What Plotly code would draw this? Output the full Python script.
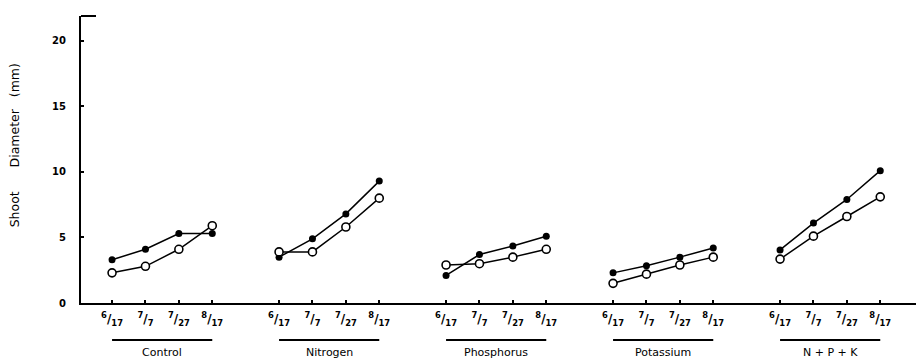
import plotly.graph_objects as go

# Treatments and sampling dates
treatments = ["Control", "Nitrogen", "Phosphorus", "Potassium", "N + P + K"]
dates = ["6/17", "7/7", "7/27", "8/17"]

# Shoot diameter (mm), solid-circle series
solid = {
    "Control":    [3.3, 4.1, 5.3, 5.3],
    "Nitrogen":   [3.5, 4.9, 6.8, 9.3],
    "Phosphorus": [2.1, 3.7, 4.35, 5.1],
    "Potassium":  [2.3, 2.85, 3.5, 4.2],
    "N + P + K":  [4.05, 6.1, 7.9, 10.1],
}
# Shoot diameter (mm), open-circle series
hollow = {
    "Control":    [2.3, 2.8, 4.1, 5.9],
    "Nitrogen":   [3.9, 3.9, 5.8, 8.0],
    "Phosphorus": [2.9, 3.0, 3.5, 4.1],
    "Potassium":  [1.5, 2.2, 2.9, 3.5],
    "N + P + K":  [3.35, 5.1, 6.6, 8.1],
}

y_ticks = [0, 5, 10, 15, 20]
GROUP_STEP = 5  # four dates plus one blank slot between treatments


def frac(label):
    num, den = label.split("/")
    return f"<sup>{num}</sup>/<sub>{den}</sub>"


font_family = "DejaVu Sans, Arial, sans-serif"
fig = go.Figure()

tick_pos, tick_txt = [], []
for g, name in enumerate(treatments):
    xs = [g * GROUP_STEP + j for j in range(len(dates))]
    tick_pos += xs
    tick_txt += [frac(d) for d in dates]
    fig.add_trace(go.Scatter(
        x=xs, y=solid[name], mode="lines+markers",
        line=dict(color="black", width=1.5),
        marker=dict(symbol="circle", size=7, color="black"),
        showlegend=False, hoverinfo="skip"))
    fig.add_trace(go.Scatter(
        x=xs, y=hollow[name], mode="lines+markers",
        line=dict(color="black", width=1.5),
        marker=dict(symbol="circle", size=8, color="white",
                    line=dict(color="black", width=1.6)),
        showlegend=False, hoverinfo="skip"))
    # bar under the dates with the treatment name
    fig.add_shape(type="line", xref="x", yref="paper",
                  x0=xs[0], x1=xs[-1], y0=-0.129, y1=-0.129,
                  line=dict(color="black", width=2))
    fig.add_annotation(x=(xs[0] + xs[-1]) / 2, y=-0.172, xref="x", yref="paper",
                       text=name, showarrow=False, yanchor="middle",
                       font=dict(size=11, color="black", family=font_family))

# short cap at the top of the y axis
fig.add_shape(type="line", xref="paper", yref="paper",
              x0=0, x1=0.018, y0=1, y1=1,
              line=dict(color="black", width=2))

nb = "\u00a0"
fig.add_annotation(
    x=-0.080, y=0.55, xref="paper", yref="paper", textangle=-90,
    text="Shoot" + nb * 6 + "Diameter" + nb * 3 + "(mm)",
    showarrow=False, xanchor="center", yanchor="middle",
    font=dict(size=12.5, color="black", family=font_family))

fig.update_xaxes(
    range=[-0.93, 24.07], showgrid=False, zeroline=False,
    showline=True, linecolor="black", linewidth=2,
    tickmode="array", tickvals=tick_pos, ticktext=tick_txt,
    ticks="inside", ticklen=3, tickcolor="black", tickwidth=1.5,
    ticklabelstandoff=4,
    tickfont=dict(size=12, color="black", family=font_family, weight="bold"))
fig.update_yaxes(
    range=[0, 21.9], showgrid=False, zeroline=False,
    showline=True, linecolor="black", linewidth=2,
    tickmode="array", tickvals=y_ticks, ticktext=[str(v) for v in y_ticks],
    ticks="inside", ticklen=3, tickcolor="black", tickwidth=1.5,
    ticklabelstandoff=11,
    tickfont=dict(size=10, color="black", family=font_family, weight="bold"))

fig.update_layout(
    width=916, height=364,
    margin=dict(l=81, r=0, t=16, b=61),
    paper_bgcolor="white", plot_bgcolor="white",
    font=dict(family=font_family, color="black"))

fig.write_html("out.html")
